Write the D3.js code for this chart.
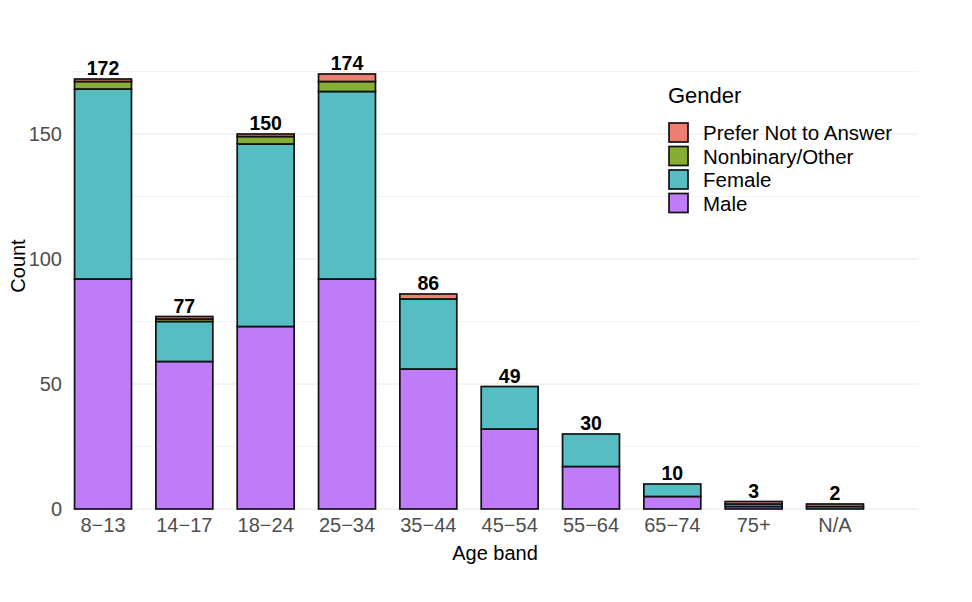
<!DOCTYPE html>
<meta charset="utf-8">
<style>
body { margin: 0; background: #fff; }
svg text { font-family: "Liberation Sans", Arial, sans-serif; }
.grid line { stroke: #e8e8e8; stroke-width: 1; }
.grid .minor { stroke: #f3f3f3; }
.tick-label { fill: #4d4d4d; font-size: 20px; }
.axis-title { fill: #000; font-size: 20px; }
.total { font-weight: bold; font-size: 19.5px; fill: #000; }
</style>
<body>
<div id="chart"></div>
<script src="https://d3js.org/d3.v7.min.js"></script>
<script>
// age bands along the x axis
var ageBands = ["8\u221213", "14\u221217", "18\u221224", "25\u221234", "35\u221244",
                "45\u221254", "55\u221264", "65\u221274", "75+", "N/A"];
// counts per gender
var male      = [92, 59, 73, 92, 56, 32, 17, 5, 1, 0];
var female    = [76, 16, 73, 75, 28, 17, 13, 5, 1, 1];
var nonbinary = [ 3,  1,  3,  4,  0,  0,  0, 0, 0, 0];
var preferNot = [ 1,  1,  1,  3,  2,  0,  0, 0, 1, 1];

var genders = ["Male", "Female", "Nonbinary/Other", "Prefer Not to Answer"];
var colors = ["#c07cf8", "#56bdc2", "#86ae33", "#ee7e72"];
var yTicks = [0, 50, 100, 150];
var yMinor = [25, 75, 125, 175];

var W = 972, H = 602;
var panel = {left: 72, right: 918, top: 52, bottom: 509};

var rows = ageBands.map(function(a, i) {
  return {band: a, "Male": male[i], "Female": female[i],
          "Nonbinary/Other": nonbinary[i], "Prefer Not to Answer": preferNot[i]};
});
var stacked = d3.stack().keys(genders)(rows);
var totals = rows.map(function(r) { return d3.sum(genders, function(g) { return r[g]; }); });

var x = d3.scaleBand()
    .domain(ageBands)
    .range([62.35, 875.65])
    .paddingInner(0.3)
    .paddingOuter(0.15);

var y = d3.scaleLinear()
    .domain([0, 175])
    .range([509, 71.5]);

var svg = d3.select("#chart").append("svg")
    .attr("width", W)
    .attr("height", H);

// grid lines
var grid = svg.append("g").attr("class", "grid");
grid.selectAll(".minor").data(yMinor).enter().append("line")
    .attr("class", "minor")
    .attr("x1", panel.left).attr("x2", panel.right)
    .attr("y1", function(d) { return y(d); })
    .attr("y2", function(d) { return y(d); });
grid.selectAll(".major").data(yTicks).enter().append("line")
    .attr("class", "major")
    .attr("x1", panel.left).attr("x2", panel.right)
    .attr("y1", function(d) { return y(d); })
    .attr("y2", function(d) { return y(d); });

// y tick labels
svg.selectAll(".ylab").data(yTicks).enter().append("text")
    .attr("class", "tick-label")
    .attr("x", 62)
    .attr("y", function(d) { return y(d); })
    .attr("dy", "0.35em")
    .attr("text-anchor", "end")
    .text(function(d) { return d; });

// x tick labels
svg.selectAll(".xlab").data(ageBands).enter().append("text")
    .attr("class", "tick-label")
    .attr("x", function(d) { return x(d) + x.bandwidth() / 2; })
    .attr("y", 532)
    .attr("text-anchor", "middle")
    .text(function(d) { return d; });

// bars
var layers = svg.selectAll(".layer").data(stacked).enter().append("g")
    .attr("class", "layer")
    .attr("fill", function(d, i) { return colors[i]; });

layers.selectAll("rect")
    .data(function(d) { return d.filter(function(s) { return s[1] - s[0] > 0; }); })
  .enter().append("rect")
    .attr("x", function(d) { return x(d.data.band); })
    .attr("width", x.bandwidth())
    .attr("y", function(d) { return y(d[1]); })
    .attr("height", function(d) { return y(d[0]) - y(d[1]); })
    .attr("stroke", "#111")
    .attr("stroke-width", 1.7);

// totals above bars
svg.selectAll(".total").data(rows).enter().append("text")
    .attr("class", "total")
    .attr("x", function(d) { return x(d.band) + x.bandwidth() / 2; })
    .attr("y", function(d, i) { return y(totals[i]) - 4; })
    .attr("text-anchor", "middle")
    .text(function(d, i) { return totals[i]; });

// axis titles
svg.append("text")
    .attr("class", "axis-title")
    .attr("x", (panel.left + panel.right) / 2)
    .attr("y", 560)
    .attr("text-anchor", "middle")
    .text("Age band");

svg.append("text")
    .attr("class", "axis-title")
    .attr("transform", "translate(25," + 266 + ") rotate(-90)")
    .attr("text-anchor", "middle")
    .text("Count");

// legend (reverse order like ggplot)
var legend = svg.append("g").attr("transform", "translate(668,0)");
legend.append("text")
    .attr("x", 0).attr("y", 103)
    .attr("font-size", "22px")
    .text("Gender");

var legendItems = genders.slice().reverse();
var legendColors = colors.slice().reverse();
var item = legend.selectAll(".item").data(legendItems).enter().append("g")
    .attr("transform", function(d, i) { return "translate(0," + (123 + i * 23.5) + ")"; });
item.append("rect")
    .attr("x", 1).attr("y", 0)
    .attr("width", 19).attr("height", 19)
    .attr("fill", function(d, i) { return legendColors[i]; })
    .attr("stroke", "#111")
    .attr("stroke-width", 1.7);
item.append("text")
    .attr("x", 35).attr("y", 10)
    .attr("dy", "0.35em")
    .attr("font-size", "20.5px")
    .text(function(d) { return d; });
</script>
</body>
